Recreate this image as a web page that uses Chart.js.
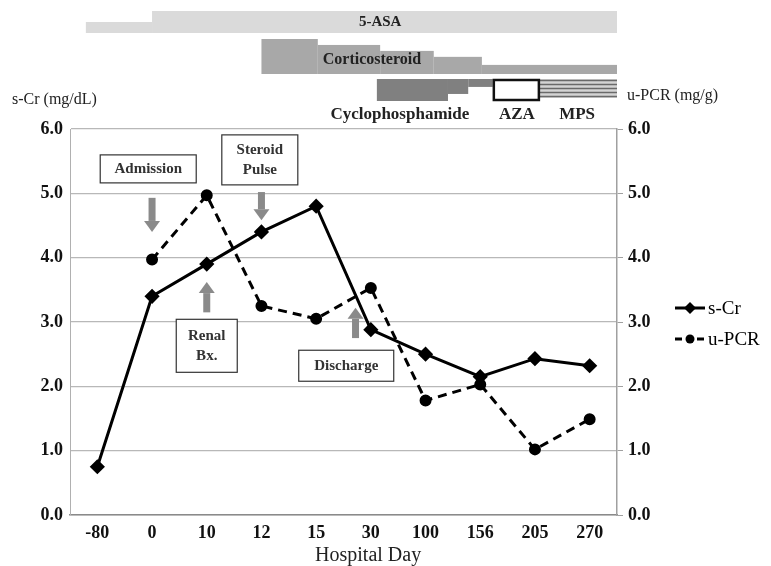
<!DOCTYPE html>
<html>
<head>
<meta charset="utf-8">
<script src="https://cdn.jsdelivr.net/npm/chart.js@4.4.1/dist/chart.umd.min.js"></script>
<style>
  html, body { margin: 0; padding: 0; background: #fff; }
  #wrap { width: 771px; height: 566px; position: relative; }
</style>
</head>
<body>
<div id="wrap"><canvas id="c" width="771" height="566"></canvas></div>
<script>
// hospital days (category axis)
const days = ['-80', '0', '10', '12', '15', '30', '100', '156', '205', '270'];
// serum creatinine, mg/dL
const sCr = [0.75, 3.4, 3.9, 4.4, 4.8, 2.88, 2.5, 2.15, 2.43, 2.32];
// urine protein/creatinine ratio, mg/g
const uPCR = [null, 3.97, 4.97, 3.25, 3.05, 3.53, 1.78, 2.03, 1.02, 1.49];
const yTicks = [0, 1, 2, 3, 4, 5, 6];

// drug courses: [from, to, relative dose], from/to in day-index units
const asaCourse = [[-0.21, 1.0, 0.5], [1.0, 9.5, 1]];
const steroidCourse = [[3.0, 4.03, 1], [4.03, 5.17, 0.83], [5.17, 6.15, 0.66], [6.15, 7.03, 0.49], [7.03, 9.5, 0.26]];
const cycloCourse = [[5.11, 6.41, 1], [6.41, 6.78, 0.68], [6.78, 7.23, 0.36]];
const azaCourse = [[7.23, 8.09]];
const mpsCourse = [[8.09, 9.5]];

// event call-outs: text lines, box centre (day index, value), arrow (index, from, to)
const events = [
  { lines: ['Admission'], bx: 0.93, by: 5.38, w: 96, h: 28, ax: 1.0, a0: 4.93, a1: 4.40 },
  { lines: ['Steroid', 'Pulse'], bx: 2.97, by: 5.52, w: 76, h: 50, ax: 3.0, a0: 5.02, a1: 4.58 },
  { lines: ['Renal', 'Bx.'], bx: 2.0, by: 2.63, w: 61, h: 53, ax: 2.0, a0: 3.15, a1: 3.62 },
  { lines: ['Discharge'], bx: 4.55, by: 2.32, w: 95, h: 31, ax: 4.72, a0: 2.75, a1: 3.22 }
];

const SERIF = '"Liberation Serif", "Times New Roman", serif';

function drawArrow(ctx, x, y0, y1) {
  const dir = y1 > y0 ? 1 : -1;
  const head = 11;
  ctx.fillStyle = '#8a8a8a';
  ctx.fillRect(x - 3.5, Math.min(y0, y1 - dir * head), 7, Math.abs(y1 - y0) - head);
  ctx.beginPath();
  ctx.moveTo(x - 8, y1 - dir * head);
  ctx.lineTo(x + 8, y1 - dir * head);
  ctx.lineTo(x, y1);
  ctx.closePath();
  ctx.fill();
}

const extras = {
  id: 'extras',
  afterDraw(chart) {
    const ctx = chart.ctx;
    const x = chart.scales.x, y = chart.scales.y;
    ctx.save();

    // drug bars above the plot
    asaCourse.forEach(([a, b, d]) => {
      const x0 = x.getPixelForValue(a), x1 = x.getPixelForValue(b);
      const h = 22 * d;
      ctx.fillStyle = '#dadada';
      ctx.fillRect(x0, 33 - h, x1 - x0, h);
    });
    steroidCourse.forEach(([a, b, d]) => {
      const x0 = x.getPixelForValue(a), x1 = x.getPixelForValue(b);
      const h = 35 * d;
      ctx.fillStyle = '#a8a8a8';
      ctx.fillRect(x0, 74 - h, x1 - x0, h);
    });
    cycloCourse.forEach(([a, b, d]) => {
      const x0 = x.getPixelForValue(a), x1 = x.getPixelForValue(b);
      ctx.fillStyle = '#808080';
      ctx.fillRect(x0, 79, x1 - x0, 22 * d);
    });
    mpsCourse.forEach(([a, b]) => {
      const x0 = x.getPixelForValue(a), x1 = x.getPixelForValue(b);
      ctx.fillStyle = '#d4d4d4';
      ctx.fillRect(x0, 79, x1 - x0, 19);
      ctx.strokeStyle = '#6a6a6a';
      ctx.lineWidth = 1.3;
      for (let k = 0; k < 5; k++) {
        ctx.beginPath();
        ctx.moveTo(x0, 80.5 + k * 4);
        ctx.lineTo(x1, 80.5 + k * 4);
        ctx.stroke();
      }
    });
    azaCourse.forEach(([a, b]) => {
      const x0 = x.getPixelForValue(a), x1 = x.getPixelForValue(b);
      ctx.fillStyle = '#fff';
      ctx.fillRect(x0, 79, x1 - x0, 22);
      ctx.strokeStyle = '#111';
      ctx.lineWidth = 2.5;
      ctx.strokeRect(x0 + 1, 80, x1 - x0 - 2, 20);
    });

    ctx.fillStyle = '#222';
    ctx.textAlign = 'center';
    ctx.textBaseline = 'middle';
    ctx.font = 'bold 15px ' + SERIF;
    ctx.fillText('5-ASA', x.getPixelForValue(5.17), 22);
    ctx.font = 'bold 16px ' + SERIF;
    ctx.fillText('Corticosteroid', x.getPixelForValue(5.02), 60);
    ctx.font = 'bold 17px ' + SERIF;
    ctx.fillText('Cyclophosphamide', x.getPixelForValue(5.53), 115);
    ctx.fillText('AZA', x.getPixelForValue(7.67), 115);
    ctx.fillText('MPS', x.getPixelForValue(8.77), 115);

    // axis titles
    ctx.font = '16px ' + SERIF;
    ctx.textAlign = 'left';
    ctx.fillText('s-Cr (mg/dL)', 12, 100);
    ctx.fillText('u-PCR (mg/g)', 627, 96);
    ctx.font = '20px ' + SERIF;
    ctx.textAlign = 'center';
    ctx.fillText('Hospital Day', x.getPixelForValue(4.95), 556);

    // event call-outs
    events.forEach(ev => {
      const cx = x.getPixelForValue(ev.bx), cy = y.getPixelForValue(ev.by);
      ctx.fillStyle = '#fff';
      ctx.fillRect(cx - ev.w / 2, cy - ev.h / 2, ev.w, ev.h);
      ctx.strokeStyle = '#333';
      ctx.lineWidth = 1.2;
      ctx.strokeRect(cx - ev.w / 2, cy - ev.h / 2, ev.w, ev.h);
      ctx.fillStyle = '#333';
      ctx.textAlign = 'center';
      ctx.font = 'bold 15px ' + SERIF;
      const lh = 20;
      ev.lines.forEach((t, i) => {
        ctx.fillText(t, cx, cy + (i - (ev.lines.length - 1) / 2) * lh);
      });
      drawArrow(ctx, x.getPixelForValue(ev.ax), y.getPixelForValue(ev.a0), y.getPixelForValue(ev.a1));
    });

    // legend
    ctx.strokeStyle = '#000';
    ctx.fillStyle = '#000';
    ctx.lineWidth = 3;
    ctx.beginPath(); ctx.moveTo(675, 308); ctx.lineTo(705, 308); ctx.stroke();
    ctx.beginPath();
    ctx.moveTo(690, 302); ctx.lineTo(696, 308); ctx.lineTo(690, 314); ctx.lineTo(684, 308);
    ctx.closePath(); ctx.fill();
    ctx.setLineDash([7, 4]);
    ctx.beginPath(); ctx.moveTo(675, 339); ctx.lineTo(706, 339); ctx.stroke();
    ctx.setLineDash([]);
    ctx.beginPath(); ctx.arc(690, 339, 4.5, 0, Math.PI * 2); ctx.fill();
    ctx.font = '19px ' + SERIF;
    ctx.textAlign = 'left';
    ctx.fillText('s-Cr', 708, 309);
    ctx.fillText('u-PCR', 708, 340);

    ctx.restore();
  }
};

new Chart(document.getElementById('c'), {
  type: 'line',
  data: {
    labels: days,
    datasets: [
      {
        label: 's-Cr',
        data: sCr,
        yAxisID: 'y',
        borderColor: '#000',
        backgroundColor: '#000',
        borderWidth: 3,
        pointStyle: 'rectRot',
        pointRadius: 5.5,
        tension: 0
      },
      {
        label: 'u-PCR',
        data: uPCR,
        yAxisID: 'y1',
        borderColor: '#000',
        backgroundColor: '#000',
        borderWidth: 3,
        borderDash: [9, 6],
        pointStyle: 'circle',
        pointRadius: 4.5,
        tension: 0
      }
    ]
  },
  options: {
    responsive: false,
    animation: false,
    devicePixelRatio: 1,
    layout: { padding: { top: 129, left: 0, right: 0, bottom: 0 } },
    plugins: { legend: { display: false }, tooltip: { enabled: false } },
    scales: {
      x: {
        offset: true,
        grid: { display: false },
        border: { display: true, color: '#8a8a8a', width: 1.5 },
        ticks: { color: '#111', font: { family: SERIF, size: 18, weight: 'bold' }, padding: 0 },
        afterFit: s => { s.height = 51; }
      },
      y: {
        position: 'left',
        min: 0, max: 6,
        afterBuildTicks: s => { s.ticks = yTicks.map(v => ({ value: v })); },
        grid: { color: '#b8b8b8', lineWidth: 1.3, drawTicks: false },
        border: { color: '#b0b0b0' },
        ticks: { color: '#111', font: { family: SERIF, size: 18, weight: 'bold' }, padding: 7, callback: v => v.toFixed(1) },
        afterFit: s => { s.width = 70; }
      },
      y1: {
        position: 'right',
        min: 0, max: 6,
        afterBuildTicks: s => { s.ticks = yTicks.map(v => ({ value: v })); },
        grid: { drawOnChartArea: false, drawTicks: true, tickLength: 6, color: '#a0a0a0' },
        border: { color: '#a0a0a0', width: 1.5 },
        ticks: { color: '#111', font: { family: SERIF, size: 18, weight: 'bold' }, padding: 5, callback: v => v.toFixed(1) },
        afterFit: s => { s.width = 154; }
      }
    }
  },
  plugins: [extras]
});
</script>
</body>
</html>
